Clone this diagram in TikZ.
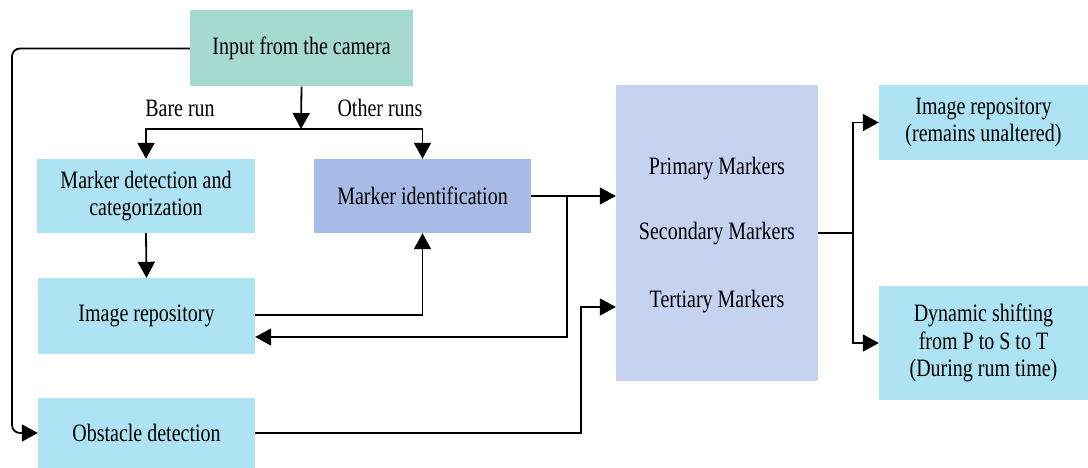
\documentclass[tikz,border=0pt]{standalone}
\usepackage{fontspec}
\setmainfont{Liberation Serif}
\newfontfamily\condf{Liberation Serif}[FakeStretch=0.8]
\usetikzlibrary{arrows.meta,calc}
\definecolor{inputc}{RGB}{166,218,208}
\definecolor{cyanc}{RGB}{173,227,242}
\definecolor{identc}{RGB}{168,186,230}
\definecolor{bigc}{RGB}{197,210,240}
\tikzset{
  box/.style={rectangle, inner sep=0pt, align=center, font=\condf\fontsize{25}{27.5}\selectfont},
  lbl/.style={inner sep=0pt, font=\condf\fontsize{25}{27.5}\selectfont},
  conn/.style={line width=1.8pt, draw=black},
  arr/.style={conn, -{Triangle[length=16pt,width=17pt]}},
}
\begin{document}
\begin{tikzpicture}[x=1pt,y=-1pt]
\useasboundingbox (0,0) rectangle (1088,468);
% nodes
\node[box, fill=inputc, minimum width=223pt, minimum height=76pt] (input) at (301.5,48.5) {Input from the camera};
\node[box, fill=cyanc, minimum width=218pt, minimum height=74pt] (det) at (146,196) {Marker detection and\\categorization};
\node[box, fill=identc, minimum width=217pt, minimum height=74pt] (ident) at (422.5,196) {Marker identification};
\node[box, fill=cyanc, minimum width=217pt, minimum height=76pt] (repo) at (146.5,316) {Image repository};
\node[box, fill=cyanc, minimum width=217pt, minimum height=70pt] (obst) at (146.5,433) {Obstacle detection};
\node[box, fill=bigc, minimum width=202pt, minimum height=296pt] (big) at (717,233) {};
\node[lbl] (p1) at (717,169) {Primary Markers};
\node[lbl] (p2) at (717,234) {Secondary Markers};
\node[lbl] (p3) at (717,302) {Tertiary Markers};
\node[box, fill=cyanc, minimum width=209pt, minimum height=75pt] (out1) at (983.5,122.5) {Image repository\\(remains unaltered)};
\node[box, fill=cyanc, minimum width=209pt, minimum height=114pt] (out2) at (983.5,343) {Dynamic shifting\\from P to S to T\\(During rum time)};
\node[lbl] (bare) at (180,108) {Bare run};
\node[lbl] (other) at (380,108) {Other runs};
% coordinates
\coordinate (split) at (301,129);
\coordinate (lp) at (12,240);
\coordinate (j1) at (567,196);
\coordinate (j2) at (581,307);
\coordinate (j3) at (853,233);
% connectors
\draw[arr, rounded corners=8pt] (input.west) -| (lp) |- (obst.west);
\draw[arr] (input.south) -- (split);
\draw[arr] (split) -| (det.north);
\draw[arr] (split) -| (ident.north);
\draw[arr] (det.south) -- (repo.north);
\draw[arr] ([yshift=1pt]repo.east) -| (ident.south);
\draw[arr] (ident.east) -- (ident.east -| big.west);
\draw[arr] (j1) |- ([yshift=-21pt]repo.east);
\draw[arr] (obst.east) -| (j2) -- (j2 -| big.west);
\draw[conn] (big.east |- j3) -- (j3);
\draw[arr] (j3) |- (out1.west);
\draw[arr] (j3) |- (out2.west);
\end{tikzpicture}
\end{document}
